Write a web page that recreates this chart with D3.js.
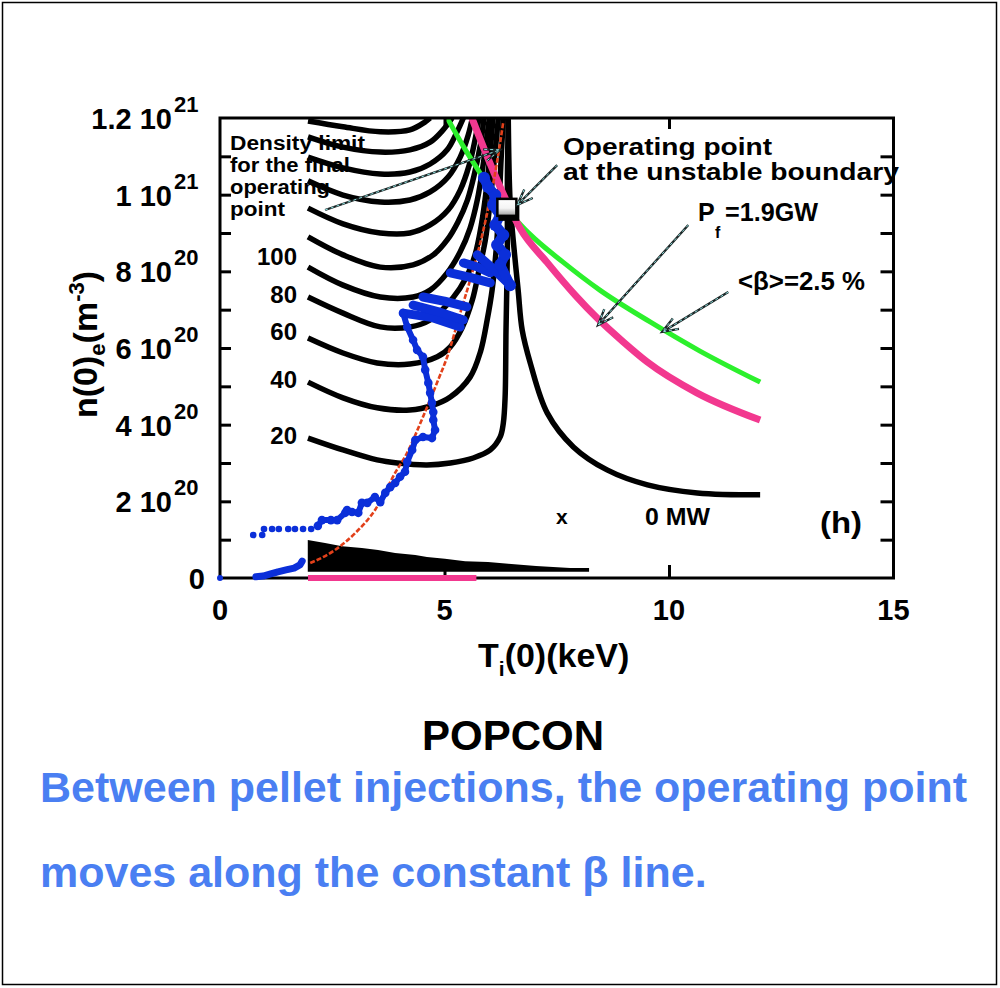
<!DOCTYPE html>
<html><head><meta charset="utf-8">
<script src="https://cdn.jsdelivr.net/npm/d3@7"></script>
<style>
html,body{margin:0;padding:0;background:#fff;}
svg{display:block;}
text{font-family:"Liberation Sans",Arial,Helvetica,sans-serif;font-weight:bold;}
</style></head><body>
<svg id="c" width="1000" height="988"></svg>
<script>
// ---------- DATA (T in keV, n in 1e20 m^-3) ----------
const xTickValues = [0, 5, 10, 15];
const xTickLabels = ["0", "5", "10", "15"];
const yTickValues = [0, 2, 4, 6, 8, 10, 12];
const yTickMantissa = ["0", "2", "4", "6", "8", "1", "1.2"];
const yTickExponent = ["", "20", "20", "20", "20", "21", "21"];
const yMinorTicks = [1, 2, 3, 4, 5, 6, 7, 8, 9, 10, 11];
const xMinorTicks = [5, 10];

const contourLabels = ["20", "40", "60", "80", "100"];
const contour20 = [[1.96,3.65],[2.74,3.34],[3.50,3.08],[3.95,3.00],[4.61,2.95],[5.13,3.00],[5.64,3.13],[6.02,3.34],[6.24,3.68],[6.31,4.04],[6.35,4.72],[6.37,6.47],[6.40,8.56],[6.40,10.38],[6.42,12.0]];
const contour40 = [[1.96,5.11],[2.74,4.70],[3.50,4.44],[4.23,4.38],[4.75,4.51],[5.13,4.72],[5.57,5.24],[5.80,5.90],[5.95,6.73],[6.06,7.51],[6.15,8.56],[6.22,9.86],[6.26,10.91],[6.31,12.0]];
const contour60 = [[1.96,6.26],[2.74,5.87],[3.50,5.61],[4.23,5.58],[4.84,5.77],[5.13,6.03],[5.39,6.52],[5.62,7.25],[5.77,8.04],[5.91,8.82],[6.02,9.86],[6.11,10.91],[6.20,12.0]];
const contour80 = [[1.96,7.33],[2.74,6.91],[3.57,6.55],[4.23,6.55],[4.68,6.73],[5.19,7.31],[5.48,7.83],[5.68,8.43],[5.82,9.21],[5.93,10.12],[6.02,11.17],[6.08,12.0]];
const contour100 = [[1.96,8.11],[2.74,7.64],[3.57,7.33],[4.30,7.33],[4.68,7.51],[5.06,7.96],[5.35,8.51],[5.57,9.13],[5.73,9.86],[5.86,10.77],[5.95,11.56],[6.00,12.0]];
const contour120 = [[1.96,8.90],[2.74,8.43],[3.57,8.11],[4.30,8.17],[4.75,8.43],[5.06,8.82],[5.30,9.29],[5.51,9.86],[5.66,10.51],[5.80,11.30],[5.88,12.0]];
const contour140 = [[1.96,9.65],[2.74,9.24],[3.57,9.00],[4.23,9.00],[4.68,9.21],[5.08,9.60],[5.35,10.12],[5.55,10.77],[5.68,11.43],[5.77,12.0]];
const contour160 = [[1.96,10.36],[2.74,9.99],[3.57,9.81],[4.23,9.86],[4.68,10.07],[5.08,10.46],[5.35,10.98],[5.53,11.56],[5.62,12.0]];
const contour180 = [[1.96,10.98],[2.74,10.70],[3.57,10.54],[4.23,10.59],[4.68,10.80],[5.06,11.17],[5.28,11.64],[5.42,12.0]];
const contour200 = [[1.96,11.51],[2.74,11.24],[3.57,11.11],[4.23,11.17],[4.68,11.37],[4.97,11.69],[5.17,12.0]];
const contour220 = [[1.96,11.92],[2.74,11.77],[3.57,11.64],[4.23,11.69],[4.57,11.90],[4.68,12.0]];
const contour0MW = [[6.42,12.0],[6.46,9.86],[6.53,8.82],[6.64,7.51],[6.73,6.47],[6.91,5.61],[7.29,4.30],[7.87,3.42],[8.62,2.82],[9.52,2.43],[10.63,2.22],[12.03,2.17]];

const lowRegionTop = [[1.955,0.99],[2.34,0.91],[2.72,0.83],[3.16,0.78],[3.52,0.73],[3.90,0.65],[4.35,0.60],[4.61,0.55],[5.01,0.50],[5.46,0.44],[5.97,0.42],[6.42,0.37],[7.04,0.31],[7.80,0.26],[8.22,0.26]];
const lowRegionFloor = 0.16;
const pinkBar = [[1.96,0],[5.71,0]];

const betaLine = [[5.06,12.0],[5.43,11.24],[5.79,10.57],[6.12,9.99],[6.46,9.52],[6.90,8.97],[7.64,8.24],[8.46,7.51],[9.58,6.68],[10.69,5.92],[12.03,5.11]];
const fusionLine = [[5.61,12.0],[6.01,10.83],[6.37,9.86],[6.68,9.13],[7.28,8.24],[7.91,7.38],[8.40,6.78],[8.98,6.16],[9.51,5.64],[10.62,4.83],[12.03,4.12]];
const densityLine = [[2.01,0.39],[2.56,0.73],[3.01,1.17],[3.45,1.77],[3.94,2.82],[4.12,3.16],[4.52,4.20],[4.86,5.17],[5.07,5.80],[5.35,6.91],[5.57,7.77],[5.83,8.90],[6.17,10.85],[6.31,11.90]];

const trajStart = [[0,0]];
const trajLow = [[0.80,0.03],[0.96,0.05],[1.11,0.10],[1.29,0.16],[1.47,0.21],[1.65,0.26],[1.78,0.34],[1.83,0.44]];
const trajRow = [[0.74,1.12],[0.94,1.12],[0.98,1.28],[1.16,1.28],[1.31,1.28],[1.52,1.28],[1.67,1.28],[1.85,1.28],[2.03,1.28]];
const trajClimb = [[2.18,1.36],[2.27,1.51],[2.47,1.51],[2.61,1.51],[2.79,1.70],[2.83,1.77],[2.94,1.72],[3.08,1.70],[3.16,1.96],[3.28,1.96],[3.45,2.11],[3.57,1.98],[3.68,2.22],[3.79,2.37],[3.90,2.48],[4.01,2.64],[4.12,2.77],[4.17,3.03],[4.28,3.34],[4.35,3.60],[4.52,3.68],[4.72,3.65],[4.79,3.86],[4.75,4.12],[4.75,4.33],[4.72,4.57],[4.68,4.83],[4.64,5.09],[4.57,5.43],[4.52,5.77],[4.39,5.95],[4.30,6.21],[4.17,6.55],[4.08,6.91]];
const trajSpikes = [
  [[4.08,6.91],[4.70,6.80],[5.35,6.55]],
  [[4.30,7.12],[4.85,6.95],[5.42,6.73]],
  [[4.52,7.33],[5.00,7.22],[5.50,7.07]],
  [[5.13,7.96],[5.55,7.85],[6.02,7.70]],
  [[5.42,8.22],[5.72,8.12],[6.02,7.96]],
  [[5.73,8.43],[6.10,8.05],[6.46,7.64]]
];
const trajTop = [[6.46,7.64],[6.24,8.17],[6.35,8.43],[6.17,8.69],[6.31,8.95],[6.13,9.21],[6.24,9.47],[6.08,9.73],[6.13,9.99],[5.97,10.20],[5.88,10.44]];
const operatingPoint = [6.40, 9.63];

// ---------- DRAWING ----------
const x = d3.scaleLinear().domain([0, 15]).range([220, 893.5]);
const y = d3.scaleLinear().domain([0, 12]).range([578, 118]);
const svg = d3.select("#c");

const defs = svg.append("defs");
defs.append("clipPath").attr("id", "clip").append("rect")
  .attr("x", x(0)).attr("y", y(12)).attr("width", x(15) - x(0)).attr("height", y(0) - y(12));
const grad = defs.append("linearGradient").attr("id", "sq").attr("x1", 0).attr("y1", 0).attr("x2", 0).attr("y2", 1);
grad.append("stop").attr("offset", "0%").attr("stop-color", "#ffffff");
grad.append("stop").attr("offset", "55%").attr("stop-color", "#f4f4f4");
grad.append("stop").attr("offset", "100%").attr("stop-color", "#9a9a9a");

// outer border
svg.append("rect").attr("x", 2.5).attr("y", 2.5).attr("width", 994).attr("height", 982)
  .attr("fill", "none").attr("stroke", "#000").attr("stroke-width", 1.5);

const gp = svg.append("g").attr("clip-path", "url(#clip)");
const smooth = d3.line().x(d => x(d[0])).y(d => y(d[1])).curve(d3.curveCatmullRom.alpha(0.5));
const monoX = d3.line().x(d => x(d[0])).y(d => y(d[1])).curve(d3.curveMonotoneX);
const straight = d3.line().x(d => x(d[0])).y(d => y(d[1]));

const contours = [contour20, contour40, contour60, contour80, contour100, contour120, contour140, contour160, contour180, contour200, contour220, contour0MW];
contours.forEach(c => {
  gp.append("path").attr("d", smooth(c)).attr("fill", "none")
    .attr("stroke", "#000").attr("stroke-width", 5.5);
});

// low power region
gp.append("path")
  .attr("d", d3.area().x(d => x(d[0])).y0(y(lowRegionFloor)).y1(d => y(d[1]))(lowRegionTop))
  .attr("fill", "#000");

// beta, fusion power, density lines
gp.append("path").attr("d", monoX(betaLine)).attr("fill", "none").attr("stroke", "#2cf02c").attr("stroke-width", 5);
gp.append("path").attr("d", monoX(fusionLine)).attr("fill", "none").attr("stroke", "#f2388f").attr("stroke-width", 7);
gp.append("path").attr("d", monoX(densityLine)).attr("fill", "none").attr("stroke", "#e2401a")
  .attr("stroke-width", 2.6).attr("stroke-dasharray", "5,2");

// axes frame & ticks
const axG = svg.append("g");
axG.append("g").attr("transform", `translate(${x(0)},0)`)
  .call(d3.axisLeft(y).tickValues(yMinorTicks).tickSize(-11).tickFormat(""));
axG.append("g").attr("transform", `translate(${x(15)},0)`)
  .call(d3.axisRight(y).tickValues(yMinorTicks).tickSize(-13).tickFormat(""));
axG.append("g").attr("transform", `translate(0,${y(0)})`)
  .call(d3.axisBottom(x).tickValues(xMinorTicks).tickSize(-13).tickFormat(""));
axG.append("g").attr("transform", `translate(0,${y(12)})`)
  .call(d3.axisTop(x).tickValues(xMinorTicks).tickSize(-11).tickFormat(""));
axG.selectAll(".domain").remove();
axG.selectAll(".tick line").attr("stroke", "#000").attr("stroke-width", 3);
axG.append("rect").attr("x", x(0)).attr("y", y(12)).attr("width", x(15) - x(0)).attr("height", y(0) - y(12))
  .attr("fill", "none").attr("stroke", "#000").attr("stroke-width", 3);

// pink bar on axis
svg.append("path").attr("d", straight(pinkBar)).attr("stroke", "#f2388f").attr("stroke-width", 6);

// trajectory
const blue = "#0b2fd9";
const thick = (data, w) => svg.append("path").attr("d", straight(data)).attr("fill", "none").attr("stroke", blue)
  .attr("stroke-width", w).attr("stroke-linecap", "round").attr("stroke-linejoin", "round");
thick(trajLow, 7);
thick(trajClimb, 6);
trajSpikes.forEach(s => thick(s, 9));
thick(trajTop, 10);
svg.selectAll(".tc").data(trajClimb).enter().append("circle")
  .attr("cx", d => x(d[0])).attr("cy", d => y(d[1])).attr("r", 4.3).attr("fill", blue);
svg.selectAll(".tt").data(trajTop).enter().append("circle")
  .attr("cx", d => x(d[0])).attr("cy", d => y(d[1])).attr("r", 6).attr("fill", blue);
svg.selectAll(".tr").data(trajRow).enter().append("circle")
  .attr("cx", d => x(d[0])).attr("cy", d => y(d[1])).attr("r", 3.3).attr("fill", blue);
svg.selectAll(".ts").data(trajStart).enter().append("circle")
  .attr("cx", d => x(d[0])).attr("cy", d => y(d[1])).attr("r", 3).attr("fill", blue);

// operating point marker
{
  const cx = x(operatingPoint[0]), cy = y(operatingPoint[1]);
  svg.append("rect").attr("x", cx - 9).attr("y", cy - 7).attr("width", 21).attr("height", 19).attr("fill", "#000");
  svg.append("rect").attr("x", cx - 10).attr("y", cy - 10).attr("width", 19).attr("height", 17)
    .attr("fill", "url(#sq)").attr("stroke", "#000").attr("stroke-width", 2.5);
}

// arrows
function arrow(p0, p1) {
  const x0 = x(p0[0]), y0 = y(p0[1]), x1 = x(p1[0]), y1 = y(p1[1]);
  const ang = Math.atan2(y1 - y0, x1 - x0), L = 17, a = 0.36;
  const head = [[x1 - L * Math.cos(ang - a), y1 - L * Math.sin(ang - a)], [x1, y1], [x1 - L * Math.cos(ang + a), y1 - L * Math.sin(ang + a)]];
  const g = svg.append("g").attr("fill", "none");
  g.append("line").attr("x1", x0).attr("y1", y0).attr("x2", x1).attr("y2", y1).attr("stroke", "#1a2424").attr("stroke-width", 2.3);
  g.append("polyline").attr("points", head.map(p => p.join(",")).join(" ")).attr("stroke", "#1a2424").attr("stroke-width", 2.3);
  g.append("line").attr("x1", x0).attr("y1", y0).attr("x2", x1).attr("y2", y1).attr("stroke", "#8fe0e0").attr("stroke-width", 1).attr("stroke-dasharray", "3,3");
  g.append("polyline").attr("points", head.map(p => p.join(",")).join(" ")).attr("stroke", "#8fe0e0").attr("stroke-width", 1).attr("stroke-dasharray", "3,3");
}
arrow([2.34, 9.60], [6.24, 11.17]);
arrow([7.51, 10.77], [6.62, 9.73]);
arrow([10.43, 9.21], [8.42, 6.60]);
arrow([11.32, 7.46], [9.85, 6.42]);

// tick labels
const tl = svg.append("g").attr("fill", "#000");
xTickValues.forEach((v, i) => {
  tl.append("text").attr("x", x(v)).attr("y", 620).attr("text-anchor", "middle")
    .attr("font-size", 29).text(xTickLabels[i]);
});
yTickValues.forEach((v, i) => {
  const yy = y(v);
  if (yTickExponent[i] === "") {
    tl.append("text").attr("x", 205).attr("y", yy + 11).attr("text-anchor", "end").attr("font-size", 29).text(yTickMantissa[i]);
  } else {
    tl.append("text").attr("x", 172).attr("y", yy + 11).attr("text-anchor", "end").attr("font-size", 29).text(yTickMantissa[i] + " 10");
    tl.append("text").attr("x", 174).attr("y", yy - 6).attr("text-anchor", "start").attr("font-size", 22).text(yTickExponent[i]);
  }
});

// axis titles
const xt = svg.append("text").attr("x", 478).attr("y", 667).attr("font-size", 34);
xt.append("tspan").text("T");
xt.append("tspan").attr("dy", 9).attr("font-size", 21).text("i");
xt.append("tspan").attr("dy", -9).text("(0)(keV)");

const ytl = svg.append("text").attr("transform", "translate(97,418) rotate(-90)").attr("font-size", 34);
ytl.append("tspan").text("n(0)");
ytl.append("tspan").attr("dy", 8).attr("font-size", 22).text("e");
ytl.append("tspan").attr("dy", -8).text("(m");
ytl.append("tspan").attr("dy", -13).attr("font-size", 22).text("-3");
ytl.append("tspan").attr("dy", 13).text(")");

// contour labels
const cl = [contour20, contour40, contour60, contour80, contour100];
const clOffset = [6, 6, 2, 6, -2];
cl.forEach((c, i) => {
  svg.append("text").attr("x", 297).attr("y", y(c[0][1]) + clOffset[i]).attr("text-anchor", "end")
    .attr("font-size", 24).text(contourLabels[i]);
});

// annotation texts
function label(t, px, py, size, len) {
  const e = svg.append("text").attr("x", px).attr("y", py).attr("font-size", size).text(t);
  if (len) e.attr("textLength", len).attr("lengthAdjust", "spacingAndGlyphs");
  return e;
}
label("Density limit", 230, 150, 20, 135);
label("for the final", 230, 172, 20, 120);
label("operating", 230, 194, 20, 100);
label("point", 230, 216, 20, 55);
label("Operating  point", 563, 155, 24, 209);
label("at the unstable boundary", 563, 180, 24, 336);
label("P", 698, 221, 25);
label("f", 715, 238, 16);
label("=1.9GW", 725, 221, 25, 93);
label("<β>=2.5 %", 738, 290, 25, 127);
label("x", 556, 524, 21);
label("0 MW", 645, 525, 23, 65);
label("(h)", 820, 533, 30, 42);

// bottom texts
svg.append("text").attr("x", 513).attr("y", 750).attr("text-anchor", "middle").attr("font-size", 42).attr("fill", "#000").text("POPCON");
svg.append("text").attr("x", 40).attr("y", 802).attr("font-size", 43).attr("fill", "#4a7ff2").text("Between pellet injections, the operating point");
svg.append("text").attr("x", 40).attr("y", 887).attr("font-size", 43).attr("fill", "#4a7ff2").text("moves along the constant β line.");
</script></body></html>
